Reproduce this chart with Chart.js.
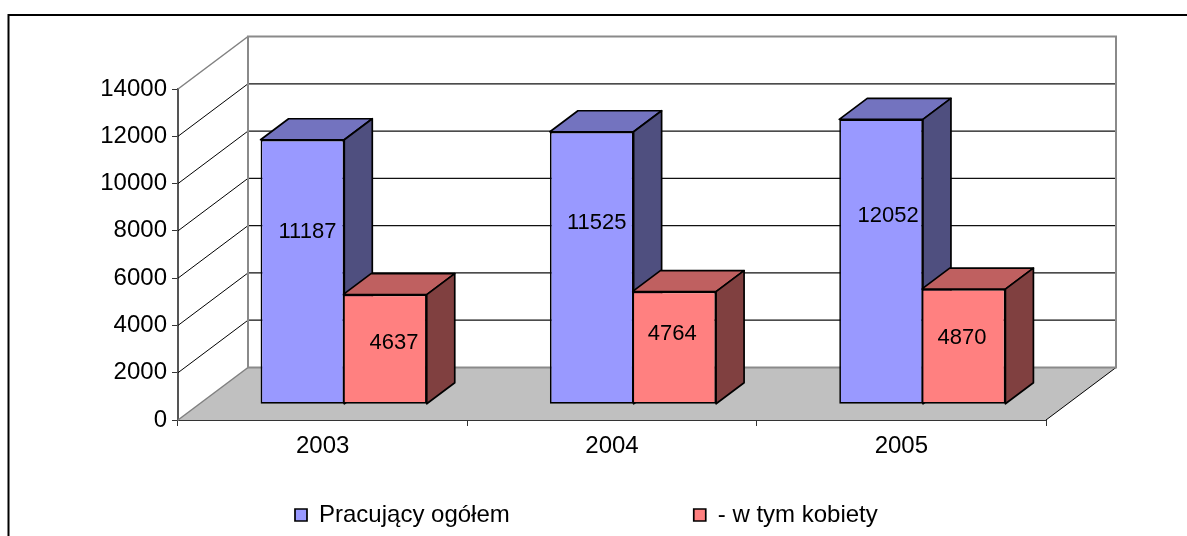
<!DOCTYPE html>
<html><head><meta charset="utf-8">
<style>html,body{margin:0;padding:0;background:#fff}canvas{display:block}</style>
<script src="https://cdn.jsdelivr.net/npm/chart.js@4/dist/chart.umd.min.js"></script>
</head><body><canvas id="c" width="1187" height="536"></canvas>
<script>
const categories = ["2003", "2004", "2005"];
const seriesNames = ["Pracujący ogółem", "- w tym kobiety"];
const workersTotal = [11187, 11525, 12052];
const workersWomen = [4637, 4764, 4870];
const yTickValues = [0, 2000, 4000, 6000, 8000, 10000, 12000, 14000];

const FONT = '"Liberation Sans", Arial, sans-serif';
const WALL = {dx: 70, dy: -52.5};
const BAR_SHIFT = {dx: 21, dy: -15.75};
const BAR_DEPTH = {dx: 28, dy: -21};
const faceColors = [
  {front: "#9999FF", top: "#7373BF", side: "#4F4F7F"},
  {front: "#FF8080", top: "#BF6060", side: "#804040"}
];
const labelFrac = [[0.65, 0.665, 0.66], [0.56, 0.62, 0.57]];
const labelNudgeX = [[5, 5, 7], [9, -2, -1.5]];

function poly(ctx, pts, fill, stroke, lw) {
  ctx.beginPath();
  pts.forEach((p, i) => i ? ctx.lineTo(p[0], p[1]) : ctx.moveTo(p[0], p[1]));
  ctx.closePath();
  if (fill) { ctx.fillStyle = fill; ctx.fill(); }
  if (stroke) { ctx.strokeStyle = stroke; ctx.lineWidth = lw; ctx.lineJoin = "round"; ctx.stroke(); }
}
function seg(ctx, x1, y1, x2, y2, color, lw) {
  ctx.beginPath(); ctx.moveTo(x1, y1); ctx.lineTo(x2, y2);
  ctx.strokeStyle = color; ctx.lineWidth = lw; ctx.stroke();
}

const threeD = {
  id: "threeD",
  beforeLayout(chart) {
    const lg = chart.legend;
    if (lg && !lg._wrapped) {
      const fit = lg.fit;
      lg.fit = function () { fit.call(this); this.height = 1; };
      lg._wrapped = true;
    }
  },
  afterLayout(chart) {
    const lg = chart.legend, pad = lg.options.labels.padding;
    lg.left = 295 - pad; lg.right = 1187; lg.top = 503 - pad; lg.bottom = 536;
    lg.width = lg.right - lg.left; lg.height = lg.bottom - lg.top;
  },
  beforeDatasetsDraw(chart) {
    const ctx = chart.ctx, a = chart.chartArea, y = chart.scales.y;
    const {left: L, right: R, top: T, bottom: B} = a;
    ctx.save();
    // outer frame
    ctx.strokeStyle = "#000"; ctx.lineWidth = 2;
    ctx.strokeRect(8.5, 15, 1300, 700);
    // floor
    poly(ctx, [[L, B], [L + WALL.dx, B + WALL.dy], [R + WALL.dx, B + WALL.dy], [R, B]], "#C0C0C0");
    // gridlines
    yTickValues.slice(1, -1).forEach(v => {
      const py = y.getPixelForValue(v);
      seg(ctx, L, py, L + WALL.dx, py + WALL.dy, "#000", 1);
      seg(ctx, L + WALL.dx, py + WALL.dy, R + WALL.dx, py + WALL.dy, "#111", 1.2);
    });
    // wall frame
    seg(ctx, L, T, L + WALL.dx, T + WALL.dy, "#808080", 1.5);
    seg(ctx, L, B, L + WALL.dx, B + WALL.dy, "#808080", 1.5);
    seg(ctx, R, B, R + WALL.dx, B + WALL.dy, "#000", 1);
    ctx.strokeStyle = "#8a8a8a"; ctx.lineWidth = 2;
    ctx.strokeRect(L + WALL.dx, T + WALL.dy, R - L, B - T);
    // bars' 3D faces
    ctx.translate(BAR_SHIFT.dx, BAR_SHIFT.dy);
    chart.data.datasets.forEach((ds, di) => {
      chart.getDatasetMeta(di).data.forEach(bar => {
        const l = bar.x - bar.width / 2, r = bar.x + bar.width / 2, t = bar.y, b = bar.base;
        const dx = BAR_DEPTH.dx, dy = BAR_DEPTH.dy;
        poly(ctx, [[l, t], [l + dx, t + dy], [r + dx, t + dy], [r, t]], faceColors[di].top, "#000", 1.7);
        poly(ctx, [[r, t], [r + dx, t + dy], [r + dx, b + dy], [r, b]], faceColors[di].side, "#000", 1.7);
      });
    });
  },
  afterDatasetsDraw(chart) {
    const ctx = chart.ctx;
    ctx.font = "22px " + FONT;
    ctx.fillStyle = "#000"; ctx.textAlign = "center"; ctx.textBaseline = "middle";
    chart.data.datasets.forEach((ds, di) => {
      chart.getDatasetMeta(di).data.forEach((bar, i) => {
        ctx.fillText(String(ds.data[i]), bar.x + labelNudgeX[di][i],
          bar.base + (bar.y - bar.base) * labelFrac[di][i]);
      });
    });
    ctx.restore();
  }
};

new Chart(document.getElementById("c"), {
  type: "bar",
  data: {
    labels: categories,
    datasets: [
      {label: seriesNames[0], data: workersTotal, backgroundColor: faceColors[0].front, borderColor: "#000", borderWidth: 1.7, borderSkipped: false},
      {label: seriesNames[1], data: workersWomen, backgroundColor: faceColors[1].front, borderColor: "#000", borderWidth: 1.7, borderSkipped: false}
    ]
  },
  options: {
    responsive: false,
    animation: false,
    devicePixelRatio: 1,
    layout: {padding: {left: 0, top: 89, right: 141, bottom: 0}},
    datasets: {bar: {categoryPercentage: 0.57, barPercentage: 1.015, clip: false}},
    plugins: {
      title: {display: false},
      tooltip: {enabled: false},
      legend: {
        position: "bottom",
        align: "start",
        labels: {
          color: "#000",
          font: {family: FONT, size: 24},
          boxWidth: 12,
          boxHeight: 12,
          padding: 184
        }
      }
    },
    scales: {
      x: {
        afterFit(s) { s.height = 115; },
        grid: {drawOnChartArea: false, color: "#333", tickLength: 6, lineWidth: 1},
        border: {color: "#333", width: 2},
        ticks: {color: "#000", font: {family: FONT, size: 24}, padding: 6, maxRotation: 0}
      },
      y: {
        min: yTickValues[0],
        max: yTickValues[yTickValues.length - 1],
        afterFit(s) { s.width = 178; },
        afterBuildTicks(s) { s.ticks = yTickValues.map(v => ({value: v})); },
        grid: {drawOnChartArea: false, color: "#333", tickLength: 6, lineWidth: 1},
        border: {color: "#555", width: 2},
        ticks: {color: "#000", font: {family: FONT, size: 24}, padding: 5, callback: v => String(v)}
      }
    }
  },
  plugins: [threeD]
});
</script></body></html>
